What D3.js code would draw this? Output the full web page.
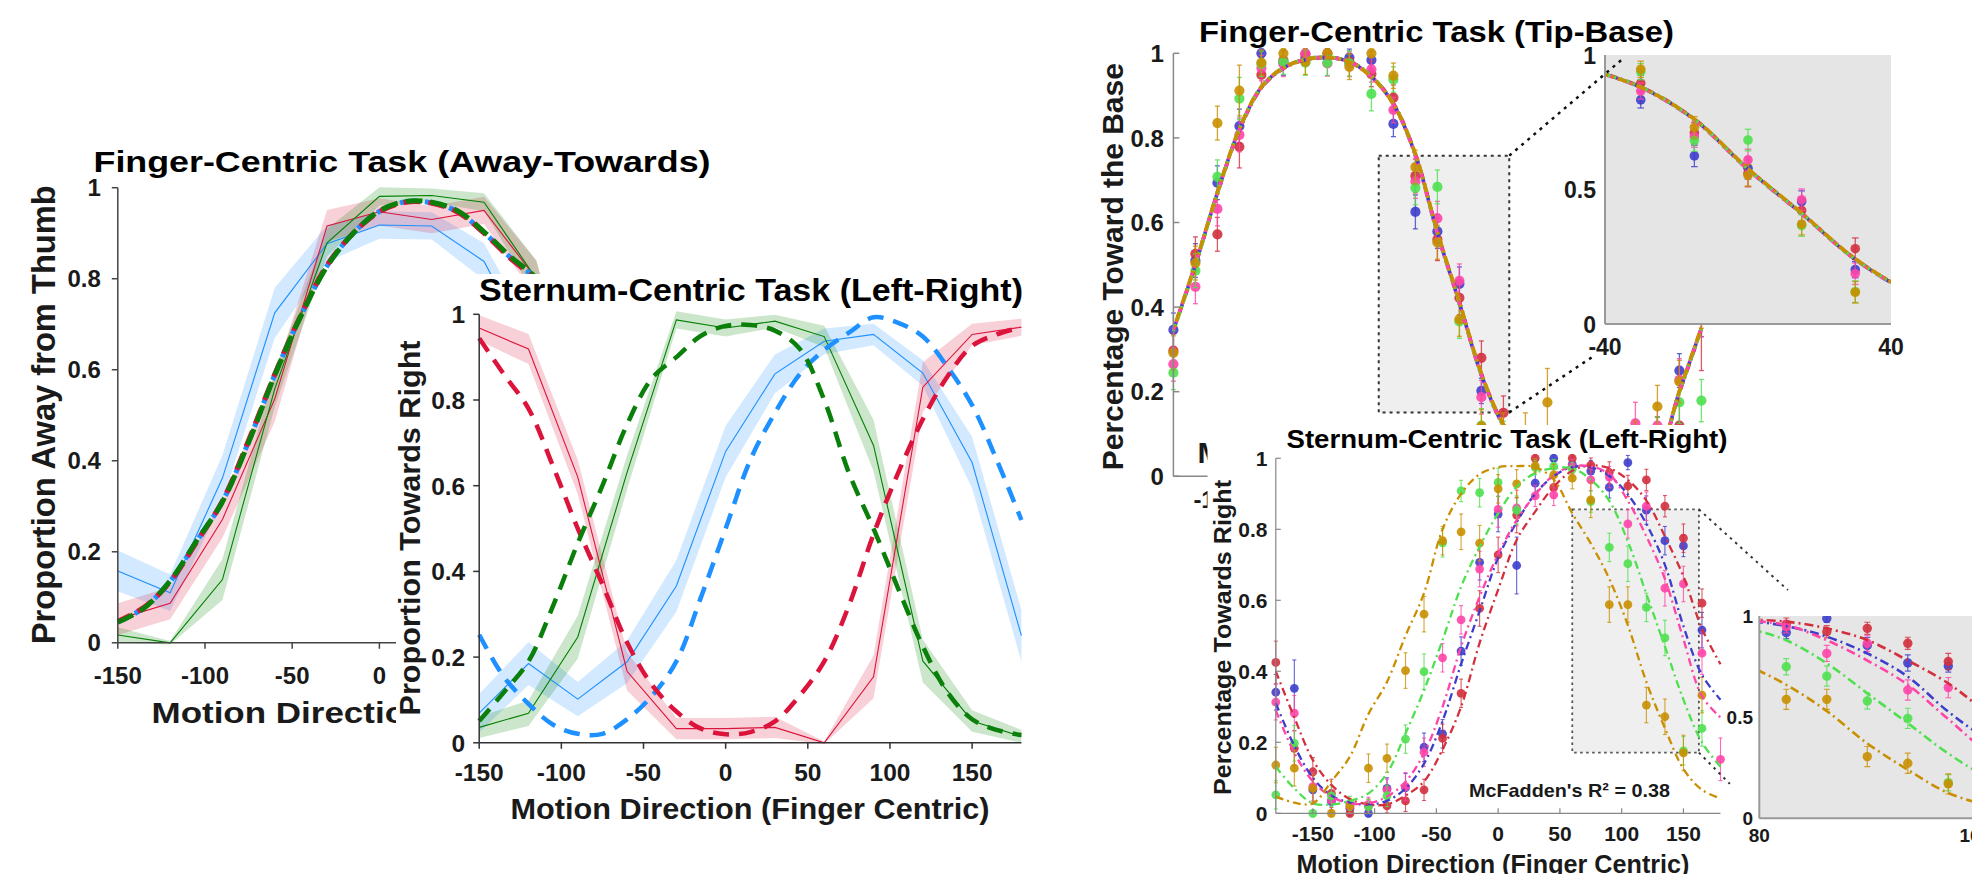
<!DOCTYPE html>
<html><head><meta charset="utf-8">
<script src="https://cdn.jsdelivr.net/npm/d3@7"></script>
<style>
html,body{margin:0;padding:0;background:#fff;}
svg{display:block;}
text{font-family:"Liberation Sans",Arial,Helvetica,sans-serif;font-weight:bold;}
</style></head><body>
<svg id="fig" width="1972" height="874"></svg>
<script>
// ================= DATA =================
// Panel A / B : directions of the measured points (30 deg) and of the model curves (15 deg)
const dirs30 = [-150,-120,-90,-60,-30,0,30,60,90,120,150,180];
const dirs15A = [-150,-135,-120,-105,-90,-75,-60,-45,-30,-15,0,15,30,45,60,75,90,105,120,135,150,165,180];

// Panel A : Finger-Centric Task (Away-Towards)
const awayBlueMean  = [0.158,0.110,0.362,0.725,0.877,0.918,0.916,0.838,0.62,0.30,0.12,0.08];
const awayBlueSem   = [0.045,0.040,0.050,0.055,0.040,0.030,0.030,0.040,0.050,0.050,0.040,0.040];
const awayRedMean   = [0.052,0.087,0.271,0.536,0.916,0.947,0.930,0.950,0.80,0.40,0.10,0.05];
const awayRedSem    = [0.035,0.035,0.040,0.050,0.035,0.030,0.030,0.030,0.040,0.040,0.030,0.030];
const awayGreenMean = [0.017,0.000,0.139,0.558,0.879,0.981,0.983,0.968,0.80,0.35,0.08,0.03];
const awayGreenSem  = [0.017,0.004,0.045,0.040,0.030,0.020,0.015,0.020,0.040,0.040,0.030,0.030];
const awayFitRed    = [0.047,0.078,0.134,0.220,0.312,0.445,0.590,0.720,0.830,0.900,0.947,0.968,0.966,0.946,0.900,0.845,0.795,0.70,0.57,0.43,0.31,0.20,0.12];
const awayFitBlue   = [0.046,0.077,0.135,0.222,0.310,0.442,0.589,0.719,0.828,0.900,0.948,0.969,0.967,0.947,0.901,0.847,0.797,0.70,0.57,0.43,0.31,0.20,0.12];
const awayFitGreen  = [0.045,0.076,0.136,0.223,0.310,0.440,0.588,0.718,0.827,0.900,0.949,0.970,0.968,0.949,0.903,0.849,0.800,0.70,0.57,0.43,0.31,0.20,0.12];

// Panel B : Sternum-Centric Task (Left-Right)
const lrBlueMean  = [0.069,0.185,0.102,0.189,0.366,0.680,0.861,0.937,0.953,0.863,0.654,0.25];
const lrBlueSem   = [0.045,0.050,0.040,0.050,0.060,0.060,0.045,0.030,0.025,0.030,0.060,0.06];
const lrRedMean   = [0.968,0.919,0.620,0.167,0.033,0.033,0.036,0.000,0.154,0.830,0.953,0.97];
const lrRedSem    = [0.030,0.035,0.040,0.045,0.025,0.025,0.025,0.003,0.050,0.058,0.025,0.02];
const lrGreenMean = [0.036,0.069,0.247,0.631,0.987,0.968,0.984,0.948,0.694,0.191,0.051,0.015];
const lrGreenSem  = [0.025,0.030,0.050,0.040,0.020,0.020,0.015,0.025,0.060,0.050,0.025,0.015];
const lrFitRed    = [0.944,0.860,0.780,0.645,0.500,0.370,0.234,0.136,0.073,0.033,0.020,0.025,0.050,0.110,0.190,0.320,0.487,0.630,0.755,0.855,0.926,0.953,0.970];
const lrFitGreen  = [0.051,0.118,0.190,0.320,0.466,0.600,0.743,0.850,0.900,0.950,0.973,0.975,0.962,0.920,0.800,0.630,0.500,0.360,0.225,0.118,0.055,0.030,0.018];
const lrFitBlue   = [0.252,0.154,0.091,0.042,0.021,0.021,0.055,0.109,0.190,0.340,0.500,0.660,0.770,0.860,0.917,0.957,0.993,0.980,0.948,0.877,0.788,0.660,0.520];

// Panels C / D : 15 deg directions
const dirs15 = [-180,-165,-150,-135,-120,-105,-90,-75,-60,-45,-30,-15,0,15,30,45,60,75,90,105,120,135,150,165,180];
const groupNames = ["blue","red","pink","green","gold"];
const groupColors = ["#3d3dcc","#d3303e","#ff45a8","#4fe04f","#c98f00"];

// Panel C : Finger-Centric Task (Tip-Base) - data points
const tbBlue  = [0.346,0.510,0.694,0.828,1.000,0.978,0.990,0.990,0.990,0.984,0.833,0.625,0.579,0.455,0.202,0.080,0.030,0.020,0.020,0.030,0.050,0.090,0.100,0.250,0.370];
const tbRed   = [0.297,0.526,0.572,0.779,0.949,0.984,0.998,1.000,0.980,0.951,0.895,0.710,0.560,0.422,0.280,0.150,0.050,0.030,0.020,0.030,0.060,0.080,0.100,0.120,0.370];
const tbPink  = [0.265,0.448,0.632,0.807,0.965,0.975,1.000,0.976,0.975,0.962,0.866,0.697,0.610,0.462,0.187,0.090,0.040,0.020,0.030,0.050,0.070,0.125,0.120,0.228,0.380];
const tbGreen = [0.245,0.486,0.708,0.893,0.975,0.980,0.978,0.978,0.976,0.904,0.938,0.682,0.684,0.366,0.120,0.100,0.040,0.020,0.020,0.030,0.050,0.080,0.100,0.175,0.179];
const tbGold  = [0.292,0.504,0.835,0.912,0.978,1.000,0.980,1.000,0.968,1.000,0.947,0.731,0.553,0.371,0.118,0.110,0.060,0.175,0.050,0.040,0.070,0.090,0.165,0.224,0.400];
const tbBlueSem  = [0.04,0.04,0.04,0.04,0.01,0.03,0.02,0.02,0.02,0.02,0.03,0.04,0.04,0.04,0.03,0.03,0.03,0.03,0.03,0.03,0.03,0.04,0.04,0.04,0.04];
const tbRedSem   = [0.04,0.04,0.04,0.05,0.03,0.02,0.01,0.01,0.02,0.03,0.03,0.04,0.05,0.04,0.04,0.04,0.03,0.03,0.03,0.03,0.04,0.04,0.04,0.05,0.12];
const tbPinkSem  = [0.04,0.04,0.04,0.04,0.03,0.03,0.01,0.03,0.03,0.03,0.03,0.04,0.04,0.04,0.04,0.03,0.03,0.03,0.03,0.03,0.04,0.05,0.05,0.05,0.05];
const tbGreenSem = [0.04,0.04,0.04,0.05,0.03,0.03,0.03,0.03,0.03,0.04,0.03,0.04,0.04,0.04,0.04,0.03,0.03,0.03,0.03,0.03,0.04,0.04,0.04,0.05,0.05];
const tbGoldSem  = [0.04,0.04,0.04,0.06,0.03,0.01,0.03,0.01,0.03,0.01,0.03,0.04,0.04,0.04,0.04,0.04,0.09,0.08,0.04,0.04,0.04,0.04,0.05,0.05,0.05];
// Panel C : fitted curves
const tbFitBlue  = [0.345,0.500,0.670,0.820,0.920,0.965,0.985,0.990,0.980,0.945,0.880,0.760,0.575,0.410,0.240,0.120,0.050,0.025,0.015,0.010,0.010,0.020,0.050,0.200,0.350];
const tbFitRed   = [0.344,0.500,0.668,0.818,0.918,0.964,0.985,0.990,0.981,0.946,0.882,0.762,0.577,0.412,0.242,0.122,0.051,0.025,0.015,0.010,0.010,0.020,0.050,0.198,0.348];
const tbFitPink  = [0.346,0.502,0.670,0.820,0.920,0.965,0.986,0.990,0.980,0.944,0.879,0.758,0.573,0.409,0.239,0.119,0.050,0.025,0.015,0.010,0.010,0.020,0.051,0.201,0.351];
const tbFitGreen = [0.343,0.499,0.669,0.821,0.921,0.966,0.986,0.991,0.981,0.946,0.881,0.761,0.576,0.411,0.241,0.121,0.050,0.025,0.015,0.010,0.010,0.020,0.049,0.199,0.349];
const tbFitGold  = [0.347,0.503,0.672,0.822,0.921,0.966,0.985,0.990,0.979,0.944,0.880,0.762,0.578,0.413,0.243,0.123,0.052,0.026,0.015,0.010,0.010,0.021,0.051,0.202,0.352];

// Panel D : Sternum-Centric Task (Left-Right) - data points
const srBlue  = [0.341,0.352,0.066,0.033,0.014,0.000,0.070,0.072,0.186,0.224,0.457,0.707,0.843,0.698,0.930,1.000,0.983,0.964,0.918,0.988,0.854,0.768,0.753,0.516,null];
const srRed   = [0.425,0.183,0.117,0.056,0.000,0.020,0.021,0.035,0.066,0.211,0.338,0.577,0.728,0.840,1.000,0.918,1.000,0.981,0.960,0.922,0.939,0.865,0.775,0.592,null];
const srPink  = [0.313,0.282,0.075,0.037,0.019,0.025,0.066,0.075,0.172,0.438,0.545,0.688,0.856,0.860,0.894,0.897,0.977,0.939,0.947,0.815,0.865,0.634,0.646,0.451,0.152];
const srGreen = [0.052,0.197,0.000,0.049,0.028,0.019,0.049,0.209,0.399,0.762,0.908,0.903,0.932,0.854,0.974,0.977,0.969,0.878,0.749,0.703,0.580,0.494,0.176,0.239,null];
const srGold  = [0.136,0.127,0.070,0.000,0.021,0.127,0.155,0.402,0.561,0.768,0.793,0.761,0.914,0.928,0.979,0.953,0.944,0.883,0.588,0.588,0.305,0.272,0.170,0.333,null];
const srBlueSem  = [0.05,0.08,0.04,0.03,0.02,0.01,0.03,0.04,0.04,0.04,0.04,0.05,0.05,0.08,0.04,0.01,0.02,0.03,0.03,0.02,0.04,0.04,0.03,0.05,0.05];
const srRedSem   = [0.06,0.05,0.04,0.04,0.01,0.02,0.02,0.03,0.03,0.04,0.04,0.05,0.05,0.05,0.01,0.03,0.01,0.02,0.03,0.03,0.03,0.03,0.04,0.04,0.04];
const srPinkSem  = [0.05,0.05,0.04,0.03,0.02,0.02,0.03,0.04,0.04,0.04,0.04,0.05,0.05,0.05,0.03,0.03,0.02,0.03,0.03,0.04,0.04,0.05,0.05,0.06,0.06];
const srGreenSem = [0.04,0.05,0.01,0.03,0.02,0.02,0.03,0.04,0.05,0.04,0.03,0.04,0.04,0.04,0.02,0.02,0.02,0.03,0.04,0.05,0.04,0.05,0.04,0.05,0.05];
const srGoldSem  = [0.05,0.05,0.04,0.01,0.02,0.04,0.04,0.05,0.05,0.04,0.05,0.05,0.04,0.04,0.02,0.03,0.03,0.05,0.05,0.05,0.05,0.05,0.05,0.05,0.05];
// Panel D : fitted curves
const srFitBlue  = [0.310,0.190,0.100,0.050,0.030,0.025,0.035,0.070,0.140,0.260,0.420,0.570,0.720,0.820,0.900,0.950,0.975,0.975,0.950,0.898,0.815,0.700,0.527,0.390,0.320];
const srFitRed   = [0.400,0.270,0.150,0.080,0.040,0.025,0.025,0.050,0.090,0.180,0.300,0.480,0.630,0.770,0.850,0.920,0.965,0.980,0.972,0.939,0.881,0.780,0.667,0.520,0.420];
const srFitPink  = [0.290,0.170,0.090,0.047,0.028,0.028,0.047,0.089,0.169,0.300,0.470,0.610,0.730,0.826,0.897,0.953,0.977,0.977,0.955,0.880,0.780,0.660,0.490,0.330,0.270];
const srFitGreen = [0.131,0.070,0.028,0.025,0.035,0.056,0.113,0.225,0.347,0.488,0.638,0.751,0.845,0.920,0.958,0.972,0.972,0.940,0.880,0.766,0.618,0.470,0.320,0.200,0.131];
const srFitGold  = [0.047,0.030,0.028,0.090,0.160,0.280,0.370,0.500,0.620,0.800,0.900,0.955,0.975,0.978,0.975,0.940,0.845,0.760,0.660,0.530,0.370,0.240,0.125,0.066,0.042];

// Tick labels
const tickA_x = [-150,-100,-50,0,50,100,150];
const tickB_x = [-150,-100,-50,0,50,100,150];
const tickCD_x = [-150,-100,-50,0,50,100,150];
const tick_y = [0,0.2,0.4,0.6,0.8,1];
const tickInsetC_x = [-40,40];
const tickInsetD_x = [80,160];
const tickInset_y = [0,0.5,1];

// Zoom windows (data units) and connector ends (inset units)
const zoomC = {x0:-40, x1:49, y0:0.151, y1:0.758};
const zoomD = {x0:60, x1:162.5, y0:0.171, y1:0.856};
const connC = [{from:[49,0.758], to:[-35.2,0.984]}, {from:[49,0.151], to:[-43.6,-0.123]}];
const connD = [{from:[162.5,0.856], to:[90.6,1.128]}, {from:[162.5,0.171], to:[69.1,0.17]}];

// ================= DRAWING =================
const svg = d3.select("#fig");
const FONT_DARK = "#1a1a1a";

const xA = d3.scaleLinear().domain([-150,180]).range([117.8,693.3]);
const yA = d3.scaleLinear().domain([0,1]).range([642.8,187.7]);
const xB = d3.scaleLinear().domain([-150,180]).range([479.2,1021.4]);
const yB = d3.scaleLinear().domain([0,1]).range([742.8,314.3]);
const xC = d3.scaleLinear().domain([-180,180]).range([1173.4,1701.4]);
const yC = d3.scaleLinear().domain([0,1]).range([476.3,53.3]);
const xCi = d3.scaleLinear().domain([-40,40]).range([1605,1891]);
const yCi = d3.scaleLinear().domain([0,1]).range([324,55]);
const xD = d3.scaleLinear().domain([-180,180]).range([1275.8,1720.5]);
const yD = d3.scaleLinear().domain([0,1]).range([813.3,458.3]);
const xDi = d3.scaleLinear().domain([80,160]).range([1759.3,1975.3]);
const yDi = d3.scaleLinear().domain([0,1]).range([818.3,616]);

function txt(g, s, x, y, fs, o={}) {
  const t = g.append("text").text(s).attr("font-size", fs)
    .attr("text-anchor", o.anchor || "start").attr("fill", o.fill || FONT_DARK);
  if (o.rotate) t.attr("transform", `translate(${x},${y}) rotate(-90)`);
  else t.attr("x", x).attr("y", y);
  if (o.len) t.attr("textLength", o.len).attr("lengthAdjust", "spacingAndGlyphs");
  return t;
}
function fmt(v){ return String(v); }

function axes(g, x, y, c) {
  const [x0,x1] = c.xr || x.range(); const [y0,y1] = [y.range()[0], y.range()[1]];
  g.append("line").attr("x1",x0).attr("x2",x0).attr("y1",y0).attr("y2",y1)
    .attr("stroke",c.color).attr("stroke-width",c.w);
  g.append("line").attr("x1",x0).attr("x2",x1).attr("y1",y0).attr("y2",y0)
    .attr("stroke",c.color).attr("stroke-width",c.w);
  g.selectAll(null).data(c.xt).join("line")
    .attr("x1",d=>x(d)).attr("x2",d=>x(d)).attr("y1",y0).attr("y2",y0+c.tl)
    .attr("stroke",c.color).attr("stroke-width",c.w);
  g.selectAll(null).data(c.yt).join("line")
    .attr("x1",x0).attr("x2",x0-c.tl).attr("y1",d=>y(d)).attr("y2",d=>y(d))
    .attr("stroke",c.color).attr("stroke-width",c.w);
  c.xt.forEach(d=>txt(g, fmt(d), x(d), y0 + c.xdy, c.fs, {anchor:"middle"}));
  c.yt.forEach(d=>txt(g, fmt(d), x0 - c.ydx, y(d) + 0.36*c.fs, c.fs, {anchor:"end"}));
}

function band(g, x, y, dirs, m, s, color) {
  const area = d3.area().x((d,i)=>x(dirs[i])).y0((d,i)=>y(m[i]-s[i])).y1((d,i)=>y(m[i]+s[i]));
  g.append("path").attr("d", area(m)).attr("fill", color).attr("fill-opacity", 0.2).attr("stroke","none");
}
function solid(g, x, y, dirs, m, color, w) {
  const line = d3.line().x((d,i)=>x(dirs[i])).y(d=>y(d));
  g.append("path").attr("d", line(m)).attr("fill","none").attr("stroke",color).attr("stroke-width",w);
}
function curveLine(g, x, y, dirs, m, color, w, dash, off) {
  const line = d3.line().x((d,i)=>x(dirs[i])).y(d=>y(d)).curve(d3.curveCatmullRom.alpha(0.5));
  g.append("path").attr("d", line(m)).attr("fill","none").attr("stroke",color)
    .attr("stroke-width",w).attr("stroke-dasharray",dash).attr("stroke-dashoffset",off||0)
    .attr("stroke-linecap","butt");
}
function errPoints(g, x, y, dirs, m, s, color, r, cap, sw) {
  const pts = dirs.map((d,i)=>({d, v:m[i], s:s[i]})).filter(p=>p.v!==null);
  g.selectAll(null).data(pts).join("line")
    .attr("x1",p=>x(p.d)).attr("x2",p=>x(p.d)).attr("y1",p=>y(p.v-p.s)).attr("y2",p=>y(p.v+p.s))
    .attr("stroke",color).attr("stroke-width",sw).attr("stroke-opacity",0.8);
  [-1,1].forEach(sg=>{
    g.selectAll(null).data(pts).join("line")
      .attr("x1",p=>x(p.d)-cap).attr("x2",p=>x(p.d)+cap)
      .attr("y1",p=>y(p.v+sg*p.s)).attr("y2",p=>y(p.v+sg*p.s))
      .attr("stroke",color).attr("stroke-width",sw).attr("stroke-opacity",0.8);
  });
  g.selectAll(null).data(pts).join("circle")
    .attr("cx",p=>x(p.d)).attr("cy",p=>y(p.v)).attr("r",r)
    .attr("fill",color).attr("fill-opacity",0.9);
}
function clipRect(id, x0, y0, w, h) {
  svg.append("clipPath").attr("id", id).append("rect").attr("x",x0).attr("y",y0).attr("width",w).attr("height",h);
  return `url(#${id})`;
}

const BLUE = "#1e90ff", RED = "#dc143c", GREEN = "#0a7f0a";

// ---------- Panel A ----------
const gA = svg.append("g");
band(gA, xA, yA, dirs30, awayBlueMean, awayBlueSem, BLUE);
band(gA, xA, yA, dirs30, awayRedMean, awayRedSem, RED);
band(gA, xA, yA, dirs30, awayGreenMean, awayGreenSem, "#008000");
solid(gA, xA, yA, dirs30, awayBlueMean, BLUE, 1.1);
solid(gA, xA, yA, dirs30, awayRedMean, RED, 1.1);
solid(gA, xA, yA, dirs30, awayGreenMean, "#008000", 1.1);
curveLine(gA, xA, yA, dirs15A, awayFitBlue, BLUE, 5, "17,8", 6);
curveLine(gA, xA, yA, dirs15A, awayFitRed, RED, 5, "17,8", 3);
curveLine(gA, xA, yA, dirs15A, awayFitGreen, GREEN, 5, "17,8", 0);
axes(gA, xA, yA, {color:"#444", w:1.5, tl:6, xt:tickA_x, yt:tick_y, fs:24, xdy:41.5, ydx:17});
txt(gA, "Finger-Centric Task (Away-Towards)", 93.5, 172, 30, {len:617, fill:"#000"});
txt(gA, "Proportion Away from Thumb", 55, 414.7, 33, {anchor:"middle", rotate:true, len:459});
txt(gA, "Motion Direction (Finger Centric)", 151.5, 723, 30, {len:546});

// ---------- Panel B ----------
const gB = svg.append("g");
gB.append("rect").attr("x",396).attr("y",274).attr("width",680).attr("height",600).attr("fill","#fff");
band(gB, xB, yB, dirs30, lrBlueMean, lrBlueSem, BLUE);
band(gB, xB, yB, dirs30, lrRedMean, lrRedSem, RED);
band(gB, xB, yB, dirs30, lrGreenMean, lrGreenSem, "#008000");
solid(gB, xB, yB, dirs30, lrBlueMean, BLUE, 1.1);
solid(gB, xB, yB, dirs30, lrRedMean, RED, 1.1);
solid(gB, xB, yB, dirs30, lrGreenMean, "#008000", 1.1);
curveLine(gB, xB, yB, dirs15A, lrFitBlue, BLUE, 4.5, "16,10", 0);
curveLine(gB, xB, yB, dirs15A, lrFitRed, RED, 4.5, "16,10", 0);
curveLine(gB, xB, yB, dirs15A, lrFitGreen, GREEN, 4.5, "16,10", 0);
axes(gB, xB, yB, {color:"#333", w:1.5, tl:6, xt:tickB_x, yt:tick_y, fs:24.5, xdy:38.5, ydx:14});
txt(gB, "Sternum-Centric Task (Left-Right)", 479, 301, 32, {len:544, fill:"#000"});
txt(gB, "Proportion Towards Right", 419.5, 528, 30, {anchor:"middle", rotate:true, len:375});
txt(gB, "Motion Direction (Finger Centric)", 750, 818.7, 29, {anchor:"middle", len:479});

// ---------- Panel C ----------
const gC = svg.append("g");
const fitsC = [tbFitBlue, tbFitRed, tbFitPink, tbFitGreen, tbFitGold];
const ptsC = [tbBlue, tbRed, tbPink, tbGreen, tbGold];
const semC = [tbBlueSem, tbRedSem, tbPinkSem, tbGreenSem, tbGoldSem];
gC.append("rect").attr("x",xC(zoomC.x0)).attr("y",yC(zoomC.y1))
  .attr("width",xC(zoomC.x1)-xC(zoomC.x0)).attr("height",yC(zoomC.y0)-yC(zoomC.y1))
  .attr("fill","#efefef").attr("stroke","#333").attr("stroke-width",2).attr("stroke-dasharray","3,4");
groupNames.forEach((n,i)=>errPoints(gC, xC, yC, dirs15, ptsC[i], semC[i], groupColors[i], 5.1, 2.5, 1.3));
groupNames.forEach((n,i)=>curveLine(gC, xC, yC, dirs15, fitsC[i], groupColors[i], 3.6, "9,4,2,4", i*2.5));
axes(gC, xC, yC, {color:"#888", w:1.5, tl:-6, xt:tickCD_x, yt:tick_y, fs:24, xdy:31.7, ydx:9.5});
txt(gC, "Finger-Centric Task (Tip-Base)", 1199, 41.7, 29, {len:475, fill:"#000"});
txt(gC, "Percentage Toward the Base", 1122.5, 266.7, 29, {anchor:"middle", rotate:true, len:407});
txt(gC, "Motion Direction (Finger Centric)", 1437.5, 463, 29, {anchor:"middle", len:480});

// inset C
const gCi = svg.append("g");
gCi.append("rect").attr("x",xCi(-40)).attr("y",yCi(1)).attr("width",xCi(40)-xCi(-40)).attr("height",yCi(0)-yCi(1)).attr("fill","#e5e5e5");
const gCiClip = gCi.append("g").attr("clip-path", clipRect("clipCi", xCi(-40), yCi(1), xCi(40)-xCi(-40), yCi(0)-yCi(1)));
groupNames.forEach((n,i)=>errPoints(gCiClip, xCi, yCi, dirs15, ptsC[i], semC[i], groupColors[i], 4.8, 3.3, 1.3));
groupNames.forEach((n,i)=>curveLine(gCiClip, xCi, yCi, dirs15, fitsC[i], groupColors[i], 3.4, "10,4,2,4", i*3));
gCi.append("line").attr("x1",xCi(-40)).attr("x2",xCi(-40)).attr("y1",yCi(0)).attr("y2",yCi(1)).attr("stroke","#999").attr("stroke-width",2);
gCi.append("line").attr("x1",xCi(-40)).attr("x2",xCi(40)).attr("y1",yCi(0)).attr("y2",yCi(0)).attr("stroke","#999").attr("stroke-width",2);
tickInset_y.forEach(v=>txt(gCi, fmt(v), 1596, yCi(v)+8.5, 23, {anchor:"end"}));
tickInsetC_x.forEach(v=>txt(gCi, fmt(v), xCi(v), 355, 23, {anchor:"middle"}));
connC.forEach(c=>{
  gCi.append("line").attr("x1",xC(c.from[0])).attr("y1",yC(c.from[1]))
    .attr("x2",xCi(c.to[0])).attr("y2",yCi(c.to[1]))
    .attr("stroke","#111").attr("stroke-width",2.5).attr("stroke-dasharray","3,5");
});

// ---------- Panel D ----------
const gD = svg.append("g");
gD.append("rect").attr("x",1207.5).attr("y",425).attr("width",800).attr("height",460).attr("fill","#fff");
const fitsD = [srFitBlue, srFitRed, srFitPink, srFitGreen, srFitGold];
const ptsD = [srBlue, srRed, srPink, srGreen, srGold];
const semD = [srBlueSem, srRedSem, srPinkSem, srGreenSem, srGoldSem];
gD.append("rect").attr("x",xD(zoomD.x0)).attr("y",yD(zoomD.y1))
  .attr("width",xD(zoomD.x1)-xD(zoomD.x0)).attr("height",yD(zoomD.y0)-yD(zoomD.y1))
  .attr("fill","#efefef").attr("stroke","#555").attr("stroke-width",1.8).attr("stroke-dasharray","2.5,3.5");
groupNames.forEach((n,i)=>errPoints(gD, xD, yD, dirs15, ptsD[i], semD[i], groupColors[i], 4.4, 2, 1.1));
groupNames.forEach((n,i)=>curveLine(gD, xD, yD, dirs15, fitsD[i], groupColors[i], 2.3, "8,4,2,4", 0));
axes(gD, xD, yD, {color:"#888", w:1.2, tl:-5, xt:tickCD_x, yt:tick_y, fs:21, xdy:27.4, ydx:8.3});
txt(gD, "Sternum-Centric Task (Left-Right)", 1286.5, 448.3, 26, {len:441, fill:"#000"});
txt(gD, "Percentage Towards Right", 1231, 637.5, 24, {anchor:"middle", rotate:true, len:315});
txt(gD, "Motion Direction (Finger Centric)", 1493, 872.5, 25, {anchor:"middle", len:393});
txt(gD, "McFadden's R\u00b2 = 0.38", 1569.5, 796.7, 19, {anchor:"middle", len:201});

// inset D
const gDi = svg.append("g");
gDi.append("rect").attr("x",xDi(80)).attr("y",yDi(1)).attr("width",xDi(160)-xDi(80)).attr("height",yDi(0)-yDi(1)).attr("fill","#e6e6e6");
const gDiClip = gDi.append("g").attr("clip-path", clipRect("clipDi", xDi(80), yDi(1), xDi(160)-xDi(80), yDi(0)-yDi(1)));
groupNames.forEach((n,i)=>errPoints(gDiClip, xDi, yDi, dirs15, ptsD[i], semD[i], groupColors[i], 4.7, 3, 1.2));
groupNames.forEach((n,i)=>curveLine(gDiClip, xDi, yDi, dirs15, fitsD[i], groupColors[i], 2.6, "9,4,2,4", 0));
gDi.append("line").attr("x1",xDi(80)).attr("x2",xDi(80)).attr("y1",yDi(0)).attr("y2",yDi(1)).attr("stroke","#999").attr("stroke-width",2);
gDi.append("line").attr("x1",xDi(80)).attr("x2",xDi(160)).attr("y1",yDi(0)).attr("y2",yDi(0)).attr("stroke","#999").attr("stroke-width",2);
tickInset_y.forEach(v=>txt(gDi, fmt(v), 1753, yDi(v)+7, 19, {anchor:"end"}));
tickInsetD_x.forEach(v=>txt(gDi, fmt(v), xDi(v), 841.7, 19, {anchor:"middle"}));
connD.forEach(c=>{
  gDi.append("line").attr("x1",xD(c.from[0])).attr("y1",yD(c.from[1]))
    .attr("x2",xDi(c.to[0])).attr("y2",yDi(c.to[1]))
    .attr("stroke","#333").attr("stroke-width",2).attr("stroke-dasharray","2.5,4.5");
});
</script>
</body></html>
